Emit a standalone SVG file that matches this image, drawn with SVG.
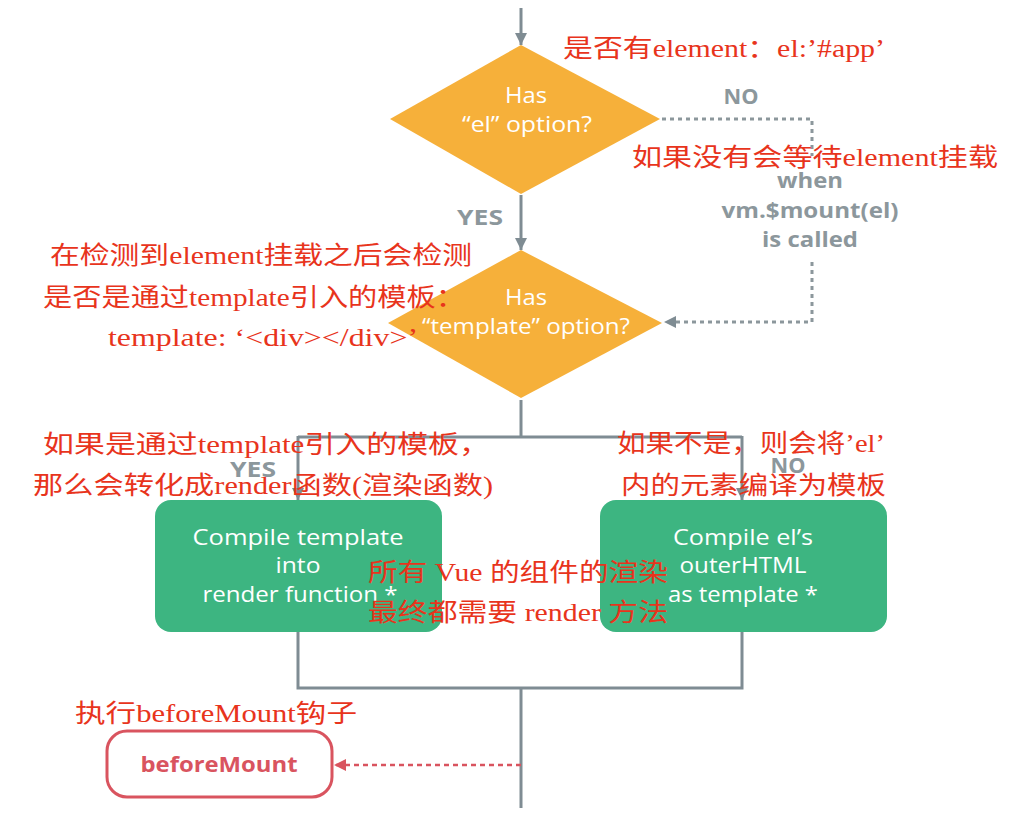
<svg xmlns="http://www.w3.org/2000/svg" width="1030" height="837" viewBox="0 0 1030 837">
<defs>
<marker id="ag" viewBox="0 0 10 10" refX="10" refY="5" markerUnits="userSpaceOnUse" markerWidth="12" markerHeight="12" orient="auto"><path d="M0,0 L10,5 L0,10 z" fill="#7f8c93"/></marker>
<marker id="ar" viewBox="0 0 10 10" refX="10" refY="5" markerUnits="userSpaceOnUse" markerWidth="12" markerHeight="12" orient="auto"><path d="M0,0 L10,5 L0,10 z" fill="#d9545f"/></marker>
<style>
.ln{fill:none;stroke:#7f8c93;stroke-width:3}
.dl{fill:none;stroke:#8c979c;stroke-width:3;stroke-dasharray:4 4}
.rd{fill:none;stroke:#d9545f;stroke-width:2.5;stroke-dasharray:5 4}
.dia{fill:#f6b03a}
.box{fill:#3db581}
.wt{fill:#ffffff;font-family:"Open Sans","Noto Sans",sans-serif;font-size:22px;text-anchor:middle}
.gl{fill:#8c979c;font-family:"Open Sans","Noto Sans",sans-serif;font-size:21px;font-weight:bold;text-anchor:middle}
.an{fill:#e8341c;font-family:"Liberation Serif","Noto Sans CJK SC",serif;font-size:25px}
.bm{fill:#ffffff;stroke:#d9545f;stroke-width:3}
.bmt{fill:#d9545f;font-family:"Open Sans","Noto Sans",sans-serif;font-size:22px;font-weight:bold;text-anchor:middle}
</style>
</defs>
<rect width="1030" height="837" fill="#ffffff"/>
<g id="connectors">
<path class="ln" d="M521,8 V45" marker-end="url(#ag)"/>
<path class="ln" d="M521,195 V250" marker-end="url(#ag)"/>
<path class="ln" d="M521,400 V437"/>
<path class="ln" d="M298,437 H742"/>
<path class="ln" d="M298,436 V500" marker-end="url(#ag)"/>
<path class="ln" d="M742,436 V500" marker-end="url(#ag)"/>
<path class="ln" d="M298,632 V688 H742 V632"/>
<path class="ln" d="M521,688 V808"/>
<path class="dl" d="M662,119 H812 V156"/>
<path class="dl" d="M812,262 V322 H664" marker-end="url(#ag)"/>
<path class="rd" d="M521,765 H334" marker-end="url(#ar)"/>
</g>
<g id="labels">
<text class="gl" x="741" y="104" textLength="35" lengthAdjust="spacingAndGlyphs">NO</text>
<text class="gl" x="810" y="188" textLength="66" lengthAdjust="spacingAndGlyphs">when</text>
<text class="gl" x="810" y="218" textLength="177" lengthAdjust="spacingAndGlyphs">vm.$mount(el)</text>
<text class="gl" x="810" y="247" textLength="96" lengthAdjust="spacingAndGlyphs">is called</text>
<text class="gl" x="480" y="225" textLength="46" lengthAdjust="spacingAndGlyphs">YES</text>
<text class="gl" x="253" y="477" textLength="46" lengthAdjust="spacingAndGlyphs">YES</text>
<text class="gl" x="788" y="473" textLength="35" lengthAdjust="spacingAndGlyphs">NO</text>
</g>
<g id="decision-el">
<polygon class="dia" points="521,45 660,119 521,194 390,119"/>
<text class="wt" x="526" y="103" textLength="42" lengthAdjust="spacingAndGlyphs">Has</text>
<text class="wt" x="527" y="132" textLength="130" lengthAdjust="spacingAndGlyphs">“el” option?</text>
</g>
<g id="decision-template">
<polygon class="dia" points="521,250 662,323 521,398 388,323"/>
<text class="wt" x="526" y="305" textLength="42" lengthAdjust="spacingAndGlyphs">Has</text>
<text class="wt" x="526" y="334" textLength="208" lengthAdjust="spacingAndGlyphs">“template” option?</text>
</g>
<g id="compile-template">
<rect class="box" x="155" y="500" width="287" height="132" rx="16"/>
<text class="wt" x="298" y="545" textLength="211" lengthAdjust="spacingAndGlyphs">Compile template</text>
<text class="wt" x="298" y="573" textLength="45" lengthAdjust="spacingAndGlyphs">into</text>
<text class="wt" x="300" y="602" textLength="195" lengthAdjust="spacingAndGlyphs">render function *</text>
</g>
<g id="compile-el">
<rect class="box" x="600" y="500" width="287" height="132" rx="16"/>
<text class="wt" x="743" y="545" textLength="140" lengthAdjust="spacingAndGlyphs">Compile el’s</text>
<text class="wt" x="743" y="573" textLength="127" lengthAdjust="spacingAndGlyphs">outerHTML</text>
<text class="wt" x="743" y="602" textLength="150" lengthAdjust="spacingAndGlyphs">as template *</text>
</g>
<g id="beforeMount">
<rect class="bm" x="107" y="731" width="225" height="66" rx="20"/>
<text class="bmt" x="219" y="772" textLength="157" lengthAdjust="spacingAndGlyphs">beforeMount</text>
</g>
<g id="annotations">
<text class="an" x="563" y="57" textLength="322" lengthAdjust="spacingAndGlyphs">是否有element：el:’#app’</text>
<text class="an" x="632" y="166" textLength="366" lengthAdjust="spacingAndGlyphs">如果没有会等待element挂载</text>
<text class="an" x="50" y="264" textLength="422" lengthAdjust="spacingAndGlyphs">在检测到element挂载之后会检测</text>
<text class="an" x="43" y="306" textLength="422" lengthAdjust="spacingAndGlyphs">是否是通过template引入的模板：</text>
<text class="an" x="108" y="346" textLength="310" lengthAdjust="spacingAndGlyphs">template: ‘&lt;div&gt;&lt;/div&gt;’</text>
<text class="an" x="43" y="453" textLength="447" lengthAdjust="spacingAndGlyphs">如果是通过template引入的模板，</text>
<text class="an" x="33" y="494" textLength="460" lengthAdjust="spacingAndGlyphs">那么会转化成render函数(渲染函数)</text>
<text class="an" x="617" y="452" textLength="268" lengthAdjust="spacingAndGlyphs">如果不是，则会将’el’</text>
<text class="an" x="621" y="494" textLength="265" lengthAdjust="spacingAndGlyphs">内的元素编译为模板</text>
<text class="an" x="368" y="581" textLength="300" lengthAdjust="spacingAndGlyphs">所有 Vue 的组件的渲染</text>
<text class="an" x="368" y="621" textLength="300" lengthAdjust="spacingAndGlyphs">最终都需要 render 方法</text>
<text class="an" x="75" y="722" textLength="282" lengthAdjust="spacingAndGlyphs">执行beforeMount钩子</text>
</g>
</svg>
